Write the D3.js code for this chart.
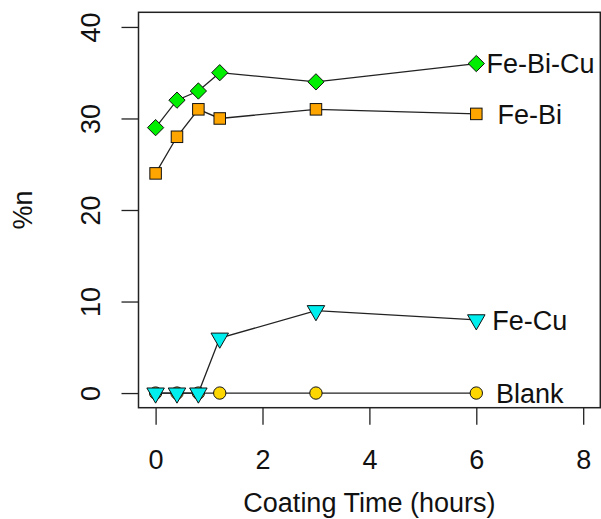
<!DOCTYPE html>
<html>
<head>
<meta charset="utf-8">
<script src="https://cdn.jsdelivr.net/npm/d3@7"></script>
<style>
  body { margin: 0; background: #fff; }
  svg text { font-family: "Liberation Sans", Arial, sans-serif; fill: #111; }
</style>
</head>
<body>
<div id="chart"></div>
<script>
// Data
const hours = [0, 0.4, 0.8, 1.2, 3, 6];
const seriesNames = ["Blank", "Fe-Cu", "Fe-Bi", "Fe-Bi-Cu"];
const blank = [0, 0, 0, 0, 0, 0];
const feCu = [0, 0, 0, 6, 9, 8];
const feBi = [24, 28, 31, 30, 31, 30.5];
const feBiCu = [29, 32, 33, 35, 34, 36];
const xTicks = [0, 2, 4, 6, 8];
const yTicks = [0, 10, 20, 30, 40];
// where each series name sits (data units)
const labelX = [7, 7, 7, 7.2];
const labelY = [0, 8, 30.5, 36];

function init() {
    const width = 601;
    const height = 519;
    const box = { left: 138.5, right: 600.3, top: 12.3, bottom: 407.7 };

    const svg = d3.select("#chart").append("svg")
        .attr("width", width)
        .attr("height", height);

    // R style 4% padding around 0..8 and 0..40
    const x = d3.scaleLinear().domain([-0.32, 8.32]).range([box.left, box.right]);
    const y = d3.scaleLinear().domain([-1.6, 41.6]).range([box.bottom, box.top]);

    const values = [blank, feCu, feBi, feBiCu];
    const fills = ["#FFD700", "#00EEEE", "#FFA500", "#00EE00"];
    const shapes = ["circle", "triDown", "square", "diamond"];

    const line = d3.line()
        .x((d, i) => x(hours[i]))
        .y(d => y(d));

    // x axis
    const xAxis = svg.append("g")
        .attr("transform", `translate(0,${box.bottom})`)
        .call(d3.axisBottom(x).tickValues(xTicks).tickSize(17).tickFormat(d3.format("d")));
    xAxis.select(".domain").remove();
    xAxis.selectAll("line").attr("stroke", "#222").attr("stroke-width", 1.3);
    xAxis.selectAll("text")
        .attr("y", 61.5)
        .attr("dy", 0)
        .style("font-size", "27px");

    // y axis
    const yAxis = svg.append("g")
        .attr("transform", `translate(${box.left},0)`)
        .call(d3.axisLeft(y).tickValues(yTicks).tickSize(17).tickFormat(d3.format("d")));
    yAxis.select(".domain").remove();
    yAxis.selectAll("line").attr("stroke", "#222").attr("stroke-width", 1.3);
    yAxis.selectAll("text")
        .attr("x", 0)
        .attr("dy", 0)
        .attr("text-anchor", "middle")
        .attr("transform", "translate(-39,0) rotate(-90)")
        .style("font-size", "27px");
    yAxis.attr("font-family", null).attr("font-size", null);
    xAxis.attr("font-family", null).attr("font-size", null);

    // box
    svg.append("rect")
        .attr("x", box.left)
        .attr("y", box.top)
        .attr("width", box.right - box.left)
        .attr("height", box.bottom - box.top)
        .attr("fill", "none")
        .attr("stroke", "#222")
        .attr("stroke-width", 1.5);

    // lines and markers, Blank first so the triangles sit on top
    const r = 6.5;
    values.forEach(function(vals, s) {
        svg.append("path")
            .datum(vals)
            .attr("d", line)
            .attr("fill", "none")
            .attr("stroke", "#222")
            .attr("stroke-width", 1.3);

        const g = svg.append("g");
        vals.forEach(function(v, i) {
            const cx = x(hours[i]), cy = y(v);
            let mark;
            if (shapes[s] === "circle") {
                mark = g.append("circle").attr("cx", cx).attr("cy", cy).attr("r", r * 0.95);
            } else if (shapes[s] === "square") {
                const h = r * 0.886;
                mark = g.append("rect").attr("x", cx - h).attr("y", cy - h)
                    .attr("width", 2 * h).attr("height", 2 * h);
            } else if (shapes[s] === "diamond") {
                const h = r * 1.253;
                mark = g.append("path")
                    .attr("d", `M${cx},${cy - h}L${cx + h},${cy}L${cx},${cy + h}L${cx - h},${cy}Z`);
            } else {
                const tr = 1.555 * r, ty = 0.778 * r, tx = 1.347 * r;
                mark = g.append("path")
                    .attr("d", `M${cx},${cy + tr}L${cx + tx},${cy - ty}L${cx - tx},${cy - ty}Z`);
            }
            mark.attr("fill", fills[s]).attr("stroke", "#111").attr("stroke-width", 1);
        });

        svg.append("text")
            .attr("x", x(labelX[s]))
            .attr("y", y(labelY[s]))
            .attr("dy", "0.36em")
            .attr("text-anchor", "middle")
            .style("font-size", "27px")
            .text(seriesNames[s]);
    });

    // axis titles
    svg.append("text")
        .attr("x", (box.left + box.right) / 2)
        .attr("y", 512)
        .attr("text-anchor", "middle")
        .style("font-size", "27px")
        .text("Coating Time (hours)");

    svg.append("text")
        .attr("transform", `translate(32,${(box.top + box.bottom) / 2}) rotate(-90)`)
        .attr("text-anchor", "middle")
        .style("font-size", "27px")
        .text("%n");
}

window.addEventListener("load", init);
</script>
</body>
</html>
